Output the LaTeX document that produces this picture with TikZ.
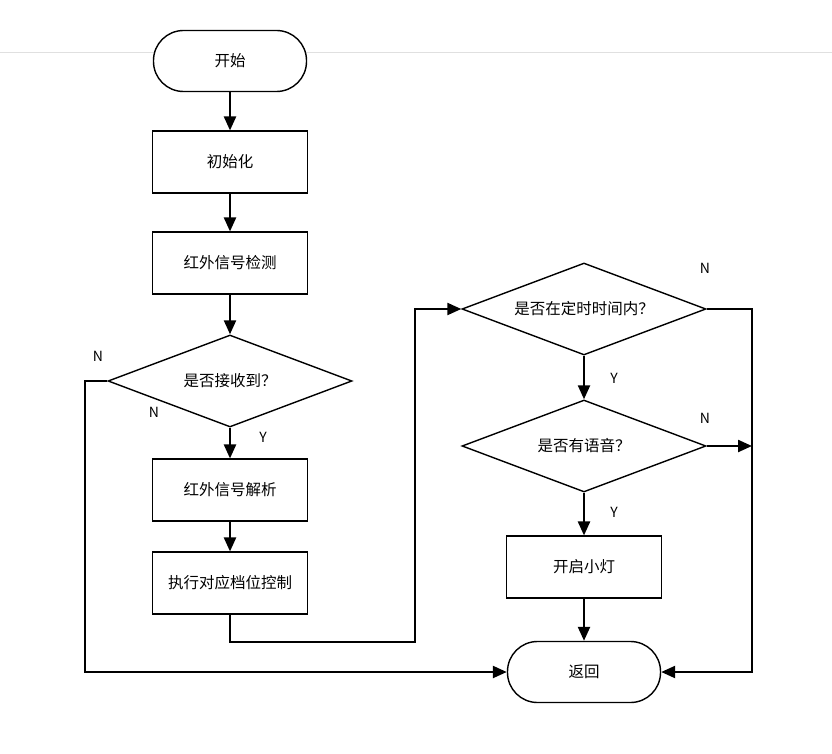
\documentclass[tikz,border=0pt]{standalone}
\usepackage{fontspec}
\setmainfont{Noto Sans CJK SC}
\usetikzlibrary{shapes.geometric,arrows.meta,positioning}

\begin{document}
\begin{tikzpicture}[x=1pt,y=-1pt,
		font=\fontsize{15.5}{18}\selectfont,
		term/.style={draw,fill=white,line width=1.4pt,rounded corners=30pt,minimum width=153pt,minimum height=61pt},
		proc/.style={draw,fill=white,line width=1.1pt,minimum width=155pt,minimum height=62pt},
		decide/.style={draw,fill=white,diamond,aspect=2.65,line width=1.4pt,minimum width=244pt,minimum height=92pt,inner sep=0pt},
		flow/.style={line width=2.3pt,-{Triangle[length=14pt,width=12pt]}},
		tag/.style={font=\fontsize{14}{16}\selectfont}]
		%%%%% START %%%%%
		
		\useasboundingbox (0,0) rectangle (832,754);
		\draw[black!12] (0,52) -- (832,52);
		
		\node[term] (start) at (230,61) {开始};
		\node[proc] (init) at (230,162) {初始化};
		\node[proc] (detect) at (230,263) {红外信号检测};
		\node[decide] (ask) at (230,381) {是否接收到？};
		\node[proc] (decode) at (230,490) {红外信号解析};
		\node[proc] (exec) at (230,583) {执行对应档位控制};
		
		\node[decide] (timer) at (584,309) {是否在定时时间内？};
		\node[decide] (voice) at (584,446) {是否有语音？};
		\node[proc] (lamp) at (584,567) {开启小灯};
		\node[term] (back) at (584,672) {返回};
		
		\coordinate (lft) at (85,381);
		\coordinate (jog) at (415,642);
		\coordinate (rgt) at (752,309);
		
		\draw[flow] (start) -- (init);
		\draw[flow] (init) -- (detect);
		\draw[flow] (detect) -- (ask);
		\draw[flow] (ask) -- (decode);
		\draw[flow] (decode) -- (exec);
		\draw[flow] (ask.west) -- (lft) |- (back.west);
		\draw[flow] (exec.south) |- (jog) |- (timer.west);
		\draw[flow] (timer) -- (voice);
		\draw[flow] (voice) -- (lamp);
		\draw[flow] (lamp) -- (back);
		\draw[flow] (timer.east) -- (rgt) |- (back.east);
		\draw[flow] (voice.east) -- (voice.east -| rgt);
		
		\node[tag] (n1) at (98,356) {N};
		\node[tag] (n2) at (154,412) {N};
		\node[tag] (y1) at (263,437) {Y};
		\node[tag] (n3) at (705,268) {N};
		\node[tag] (y2) at (614,378) {Y};
		\node[tag] (n4) at (705,418) {N};
		\node[tag] (y3) at (614,512) {Y};
		
		%%%%% END %%%%%
\end{tikzpicture}
\end{document}
